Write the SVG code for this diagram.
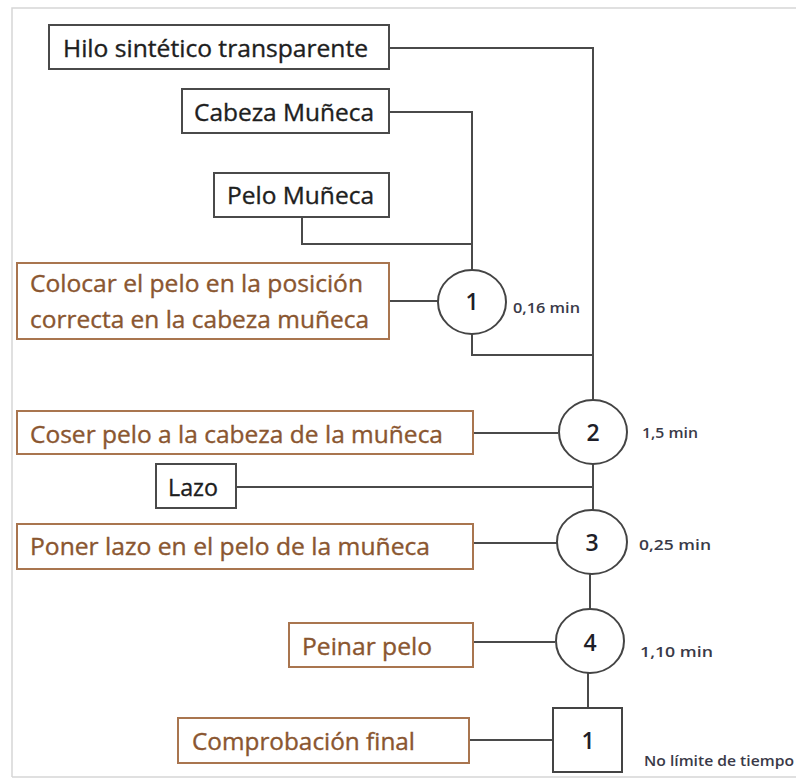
<svg xmlns="http://www.w3.org/2000/svg" width="796" height="778" viewBox="0 0 796 778">
  <style>
    .frame { fill: none; stroke: #d6d6d6; stroke-width: 1.5; }
    .box { fill: #ffffff; stroke: #4a4a4a; stroke-width: 2; }
    .op { fill: #ffffff; stroke: #a9754f; stroke-width: 2; }
    .node { fill: #ffffff; stroke: #444444; stroke-width: 2; }
    .wire { fill: none; stroke: #4a4a4a; stroke-width: 2; }
    .lbl { font-family: "Open Sans", "Liberation Sans", sans-serif; font-size: 23px; fill: #1e1e1e; stroke: #1e1e1e; stroke-width: 0.35; }
    .oplbl { font-family: "Open Sans", "Liberation Sans", sans-serif; font-size: 23px; fill: #8a5630; stroke: #8a5630; stroke-width: 0.35; }
    .num { font-family: "Open Sans", "Liberation Sans", sans-serif; font-size: 23px; font-weight: 600; fill: #1e1e28; text-anchor: middle; }
    .time { font-family: "Open Sans", "Liberation Sans", sans-serif; font-size: 15px; font-weight: 600; fill: #3a3a48; }
  </style>

  <rect x="0" y="0" width="796" height="778" fill="#ffffff"/>
  <!-- page border -->
  <path class="frame" d="M12,777 V8 H796"/>
  <path class="frame" d="M12,777 H796" stroke="#e8e8e8"/>

  <!-- connectors -->
  <g id="connectors">
    <path class="wire" d="M389,48 H593 V400"/>
    <path class="wire" d="M389,112 H472 V270"/>
    <path class="wire" d="M302,217 V244 H472"/>
    <path class="wire" d="M389,301 H438"/>
    <path class="wire" d="M472,334 V355 H593"/>
    <path class="wire" d="M473,433 H558"/>
    <path class="wire" d="M593,464 V510"/>
    <path class="wire" d="M236,487 H593"/>
    <path class="wire" d="M473,543 H557"/>
    <path class="wire" d="M590,574 V610"/>
    <path class="wire" d="M473,642 H555"/>
    <path class="wire" d="M588,673 V708"/>
    <path class="wire" d="M469,740 H553"/>
  </g>

  <!-- materials -->
  <g id="hilo">
    <rect class="box" x="49" y="25" width="340" height="44"/>
    <text class="lbl" x="63" y="57" textLength="305" lengthAdjust="spacingAndGlyphs">Hilo sintético transparente</text>
  </g>
  <g id="cabeza">
    <rect class="box" x="182" y="89" width="207" height="44"/>
    <text class="lbl" x="194" y="121" textLength="180" lengthAdjust="spacingAndGlyphs">Cabeza Muñeca</text>
  </g>
  <g id="pelo">
    <rect class="box" x="214" y="173" width="175" height="44"/>
    <text class="lbl" x="227" y="204" textLength="147" lengthAdjust="spacingAndGlyphs">Pelo Muñeca</text>
  </g>
  <g id="lazo">
    <rect class="box" x="156" y="464" width="80" height="44"/>
    <text class="lbl" x="168" y="496" textLength="50" lengthAdjust="spacingAndGlyphs" stroke-width="0.8">Lazo</text>
  </g>

  <!-- operation descriptions -->
  <g id="desc-colocar">
    <rect class="op" x="17" y="263" width="372" height="76"/>
    <text class="oplbl" x="30" y="292" textLength="333" lengthAdjust="spacingAndGlyphs">Colocar el pelo en la posición</text>
    <text class="oplbl" x="30" y="328" textLength="339" lengthAdjust="spacingAndGlyphs">correcta en la cabeza muñeca</text>
  </g>
  <g id="desc-coser">
    <rect class="op" x="17" y="411" width="456" height="43"/>
    <text class="oplbl" x="30" y="443" textLength="413" lengthAdjust="spacingAndGlyphs">Coser pelo a la cabeza de la muñeca</text>
  </g>
  <g id="desc-poner">
    <rect class="op" x="17" y="524" width="456" height="45"/>
    <text class="oplbl" x="30" y="555" textLength="400" lengthAdjust="spacingAndGlyphs">Poner lazo en el pelo de la muñeca</text>
  </g>
  <g id="desc-peinar">
    <rect class="op" x="289" y="623" width="184" height="44"/>
    <text class="oplbl" x="302" y="655" textLength="130" lengthAdjust="spacingAndGlyphs">Peinar pelo</text>
  </g>
  <g id="desc-comprobacion">
    <rect class="op" x="178" y="718" width="291" height="45"/>
    <text class="oplbl" x="192" y="750" textLength="223" lengthAdjust="spacingAndGlyphs">Comprobación final</text>
  </g>

  <!-- operations -->
  <g id="op1">
    <ellipse class="node" cx="472" cy="302" rx="34" ry="32"/>
    <text class="num" x="472" y="310">1</text>
    <text class="time" x="513" y="313" textLength="67" lengthAdjust="spacingAndGlyphs">0,16 min</text>
  </g>
  <g id="op2">
    <ellipse class="node" cx="593" cy="432" rx="34" ry="32"/>
    <text class="num" x="593" y="441">2</text>
    <text class="time" x="642" y="438" textLength="56" lengthAdjust="spacingAndGlyphs">1,5 min</text>
  </g>
  <g id="op3">
    <ellipse class="node" cx="592" cy="542" rx="35" ry="32"/>
    <text class="num" x="592" y="551">3</text>
    <text class="time" x="639" y="550" textLength="72" lengthAdjust="spacingAndGlyphs">0,25 min</text>
  </g>
  <g id="op4">
    <ellipse class="node" cx="590" cy="641" rx="34" ry="32"/>
    <text class="num" x="590" y="651">4</text>
    <text class="time" x="640" y="657" textLength="73" lengthAdjust="spacingAndGlyphs">1,10 min</text>
  </g>

  <!-- inspection -->
  <g id="insp1">
    <rect class="node" x="553" y="708" width="69" height="64"/>
    <text class="num" x="588" y="749">1</text>
    <text class="time" x="644" y="766" textLength="150" lengthAdjust="spacingAndGlyphs">No límite de tiempo</text>
  </g>
</svg>
